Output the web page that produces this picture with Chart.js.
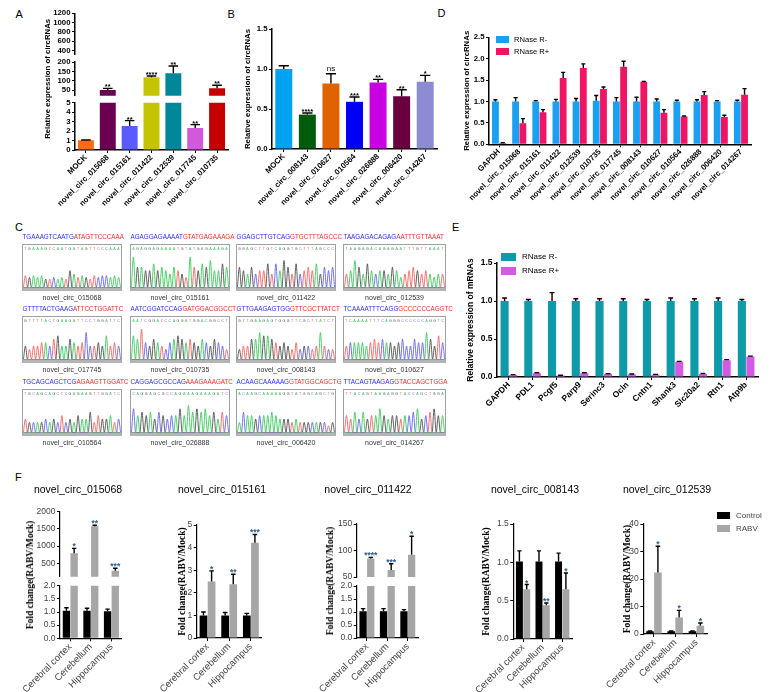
<!DOCTYPE html>
<html>
<head>
<meta charset="utf-8">
<script src="https://cdn.jsdelivr.net/npm/chart.js@4.4.1/dist/chart.umd.min.js"></script>
<style>
body { margin: 0; background: #fff; }
#fig { position: relative; width: 772px; height: 692px; overflow: hidden; font-family: "Liberation Sans", Arial, sans-serif; color: #000; }
#fig canvas { position: absolute; }
.txt { position: absolute; line-height: 1; white-space: nowrap; }
.sq { position: absolute; }
.box { position: absolute; box-sizing: border-box; border: 1px solid #a0a0a0; border-bottom: 3px solid #b4b4b4; }
</style>
</head>
<body>
<div id="fig"></div>
<script>
// ---- Panel A: circRNA expression (broken axis)
const aLabels = ['MOCK', 'novel_circ_015068', 'novel_circ_015161', 'novel_circ_011422', 'novel_circ_012539', 'novel_circ_017745', 'novel_circ_010735'];
const aValues = [1.02, 50, 2.55, 118, 140, 2.33, 60];
const aErrors = [0.04, 9, 0.55, 7, 39, 0.35, 16];
const aStars = ['', '**', '**', '****', '**', '**', '**'];
const aTicksTop = [400, 600, 800, 1000, 1200];
const aTicksMid = [50, 100, 150, 200];
const aTicksLow = [0, 1, 2, 3, 4, 5];
const aColors = ['#ff6a12', '#6b0050', '#5a5aff', '#c4c400', '#00889a', '#d259da', '#c40000'];

// ---- Panel B
const bLabels = ['MOCK', 'novel_circ_008143', 'novel_circ_010627', 'novel_circ_010564', 'novel_circ_026888', 'novel_circ_006420', 'novel_circ_014267'];
const bValues = [1.0, 0.43, 0.82, 0.59, 0.83, 0.66, 0.84];
const bErrors = [0.04, 0.02, 0.12, 0.06, 0.04, 0.08, 0.08];
const bStars = ['', '****', 'ns', '***', '**', '**', '*'];
const bTicks = [0, 0.5, 1.0, 1.5];
const bColors = ['#00a2f2', '#005c0a', '#e06300', '#0000f2', '#c800e2', '#6a0040', '#8c8cd2'];

// ---- Panel D: RNase R treatment, circRNAs
const dLabels = ['GAPDH', 'novel_circ_015068', 'novel_circ_015161', 'novel_circ_011422', 'novel_circ_012539', 'novel_circ_010735', 'novel_circ_017745', 'novel_circ_008143', 'novel_circ_010627', 'novel_circ_010564', 'novel_circ_026888', 'novel_circ_006420', 'novel_circ_014267'];
const dMinus = [1, 1, 1, 1, 1, 1.02, 1, 1, 1, 1, 1, 1, 1];
const dMinusErr = [0.04, 0.09, 0.02, 0.05, 0.07, 0.12, 0.09, 0.1, 0.06, 0.03, 0.04, 0.02, 0.03];
const dPlus = [0.03, 0.49, 0.75, 1.55, 1.78, 1.29, 1.81, 1.46, 0.74, 0.65, 1.15, 0.64, 1.16];
const dPlusErr = [0.01, 0.11, 0.06, 0.13, 0.1, 0.05, 0.13, 0.01, 0.07, 0.01, 0.08, 0.04, 0.14];
const dTicks = [0, 0.5, 1.0, 1.5, 2.0, 2.5];

// ---- Panel E: RNase R treatment, mRNAs
const eLabels = ['GAPDH', 'PDL1', 'Pcgf5', 'Parp9', 'Serinc3', 'Ocln', 'Cntn1', 'Shank3', 'Slc20a2', 'Rtn1', 'Atp9b'];
const eMinus = [1, 1, 1, 1, 1, 1, 1, 1, 1, 1, 1];
const eMinusErr = [0.04, 0.02, 0.11, 0.03, 0.03, 0.03, 0.02, 0.04, 0.03, 0.04, 0.02];
const ePlus = [0.026, 0.05, 0.02, 0.05, 0.04, 0.035, 0.03, 0.2, 0.04, 0.22, 0.27];
const ePlusErr = [0.005, 0.006, 0.004, 0.006, 0.005, 0.005, 0.004, 0.005, 0.006, 0.008, 0.005];
const eTicks = [0, 0.5, 1.0, 1.5];

// ---- Panel F: fold change in brain regions
const fRegions = ['Cerebral cortex', 'Cerebellum', 'Hippocampus'];
const f015068Ctrl = [1.05, 1.05, 1.03], f015068CtrlErr = [0.11, 0.09, 0.08];
const f015068Rabv = [790, 1580, 280], f015068RabvErr = [145, 25, 75], f015068Stars = ['*', '**', '***'];
const f015161Ctrl = [1.0, 1.0, 1.0], f015161CtrlErr = [0.15, 0.13, 0.09];
const f015161Rabv = [2.5, 2.38, 4.22], f015161RabvErr = [0.47, 0.44, 0.36], f015161Stars = ['*', '**', '***'];
const f011422Ctrl = [1.03, 1.03, 1.03], f011422CtrlErr = [0.1, 0.1, 0.06];
const f011422Rabv = [85, 63, 92], f011422RabvErr = [2, 12, 35], f011422Stars = ['****', '***', '*'];
const f008143Ctrl = [1.01, 1.01, 1.01], f008143CtrlErr = [0.14, 0.14, 0.11];
const f008143Rabv = [0.65, 0.44, 0.65], f008143RabvErr = [0.06, 0.03, 0.21], f008143Stars = ['*', '**', '*'];
const f012539Ctrl = [1.0, 1.0, 1.0], f012539CtrlErr = [0.1, 0.1, 0.1];
const f012539Rabv = [22.4, 6.0, 3.0], f012539RabvErr = [9.5, 2.6, 1.0], f012539Stars = ['*', '*', '*'];
const f015068TicksTop = [500, 1000, 1500, 2000];
const f011422TicksTop = [50, 100, 150];
const fTicksLow = [0, 0.5, 1.0, 1.5, 2.0];
const f015161Ticks = [0, 1, 2, 3, 4, 5];
const f008143Ticks = [0, 0.5, 1.0, 1.5];
const f012539Ticks = [0, 10, 20, 30, 40];

// ---- Panel C: Sanger chromatograms (sequence either side of the junction + peak heights)
const chromNames = ['novel_circ_015068', 'novel_circ_015161', 'novel_circ_011422', 'novel_circ_012539',
  'novel_circ_017745', 'novel_circ_010735', 'novel_circ_008143', 'novel_circ_010627',
  'novel_circ_010564', 'novel_circ_026888', 'novel_circ_006420', 'novel_circ_014267'];
const chromLeft = ['TGAAAGTCAATG', 'AGAGGAGAAAAT', 'GGAGCTTGTCAG', 'TAAGAGACAGAG',
  'GTTTTACTGAAG', 'AATCGGATCCAG', 'GTTGAAGAGTGG', 'TCAAAATTTCAGG',
  'TGCAGCAGCTCG', 'CAGGAGCGCCAG', 'ACAAGCAAAAAG', 'TTACAGTAAGAG'];
const chromRight = ['ATAGTTCCCAAA', 'GTATGAGAAAGA', 'GTGCTTTAGCCC', 'AATTTGTTAAAT',
  'ATTCCTGGATTC', 'GATGGACGGCCT', 'GTTCGCTTATCT', 'GCCCCCCAGGTC',
  'AGAAGTTGGATC', 'AAAGAAAGATC', 'GTATGGCAGCTG', 'GTACCAGCTGGA'];
const chromHeights = [
  [3.5, 3, 3.5, 3, 3.5, 2.5, 2.5, 3, 2.5, 3, 2.5, 5, 4, 3, 3.5, 3, 2.5, 3.5, 3, 3.5, 3.5, 3, 3.5, 3],
  [9, 6, 6, 5, 5, 7, 5, 6, 5, 4, 6, 5, 4, 3, 9, 6, 5, 7, 6, 8, 5, 5, 7, 6],
  [6, 5, 4, 6, 4, 5, 5, 7, 4, 7, 5, 8, 6, 4, 7, 4, 5, 6, 5, 7, 4, 6, 5, 6],
  [4, 5, 8, 6, 4, 7, 5, 4, 5, 5, 4, 6, 5, 3, 4, 5, 6, 5, 4, 5, 4, 3, 4, 4],
  [4, 3, 4, 4, 5, 5, 4, 6, 7, 4, 4, 6, 5, 4, 5, 8, 4, 4, 5, 4, 7, 4, 5, 4],
  [7, 6, 9, 5, 4, 6, 5, 4, 3, 5, 6, 7, 6, 5, 6, 5, 4, 6, 5, 4, 6, 5, 4, 3],
  [3, 4, 4, 6, 6, 8, 7, 7, 6, 5, 4, 5, 4, 3, 5, 3, 4, 4, 3, 4, 8, 4, 3, 3],
  [4, 5, 5, 5, 5, 4, 5, 6, 5, 6, 5, 5, 4, 5, 6, 4, 4, 6, 5, 5, 8, 6, 4, 7, 5],
  [4, 3, 3, 3, 3, 4, 3, 4, 3, 5, 3, 4, 3, 5, 4, 4, 6, 3, 5, 4, 4, 5, 3, 4],
  [7, 5, 6, 5, 6, 4, 6, 5, 4, 5, 5, 7, 5, 8, 6, 7, 6, 7, 5, 6, 4, 6, 5],
  [3, 6, 5, 5, 4, 5, 5, 5, 6, 5, 4, 4, 4, 3, 4, 3, 3, 3, 3, 3, 3, 3, 2, 3],
  [5, 4, 6, 4, 6, 4, 5, 5, 7, 5, 4, 5, 5, 4, 5, 5, 6, 7, 4, 5, 6, 7, 5, 5]
];

// ---------------------------------------------------------------------------
const SANS = '"Liberation Sans", Arial, sans-serif';
const SERIF = '"Liberation Serif", "Times New Roman", serif';
Chart.defaults.animation = false;
Chart.defaults.responsive = false;
Chart.defaults.font.family = SANS;
Chart.defaults.color = '#000';

const fig = document.getElementById('fig');
const int = v => String(v);
const dec1 = v => v.toFixed(1);

function canvasAt(left, top, w, h, parent) {
    const c = document.createElement('canvas');
    c.width = w; c.height = h;
    c.style.left = left + 'px';
    c.style.top = top + 'px';
    (parent || fig).appendChild(c);
    return c;
}

function text(str, left, top, css) {
    const d = document.createElement('div');
    d.className = 'txt';
    d.style.left = left + 'px';
    d.style.top = top + 'px';
    if (css) d.style.cssText += css;
    d.innerHTML = str;
    fig.appendChild(d);
    return d;
}

function square(left, top, w, h, color) {
    const d = document.createElement('div');
    d.className = 'sq';
    d.style.cssText = `left:${left}px;top:${top}px;width:${w}px;height:${h}px;background:${color}`;
    fig.appendChild(d);
}

// Error bars (upward only, GraphPad style) and significance marks
const errorBars = {
    id: 'errorBars',
    afterDatasetsDraw(chart) {
        const { ctx } = chart;
        chart.data.datasets.forEach((ds, di) => {
            if (!ds.errors) return;
            const meta = chart.getDatasetMeta(di);
            const ys = chart.scales[meta.yAxisID];
            meta.data.forEach((bar, i) => {
                const v = ds.data[i];
                const top = v + ds.errors[i];
                if (v > ys.max || top < ys.min) return;
                const x = bar.x;
                const y0 = ys.getPixelForValue(Math.max(v, ys.min));
                const y1 = ys.getPixelForValue(Math.min(top, ys.max));
                ctx.save();
                ctx.strokeStyle = '#000';
                ctx.lineWidth = 1.4;
                ctx.beginPath();
                ctx.moveTo(x, y0);
                ctx.lineTo(x, y1);
                if (top <= ys.max) {
                    const w = Math.max(bar.width * 0.3, 2);
                    ctx.moveTo(x - w, y1);
                    ctx.lineTo(x + w, y1);
                }
                ctx.stroke();
                const star = ds.stars && ds.stars[i];
                if (star && top <= ys.max) {
                    ctx.fillStyle = ds.starColor || '#000';
                    ctx.font = star === 'ns' ? ds.nsFont : ds.starFont;
                    ctx.textAlign = 'center';
                    ctx.textBaseline = 'alphabetic';
                    ctx.fillText(star, x, y1 - (star === 'ns' ? 3 : -1));
                }
                ctx.restore();
            });
        });
    }
};

function barChart(canvas, o) {
    return new Chart(canvas, {
        type: 'bar',
        data: { labels: o.labels, datasets: o.datasets },
        options: {
            layout: { padding: o.pad },
            plugins: { legend: { display: false }, tooltip: { enabled: false } },
            scales: {
                x: {
                    display: !!o.xHeight,
                    grid: { drawOnChartArea: false, offset: false, color: '#000', tickLength: 3, lineWidth: 1 },
                    border: { color: '#000', width: o.axisWidth },
                    ticks: { autoSkip: false, minRotation: 45, maxRotation: 45, padding: 0, color: o.tickColor, font: o.xFont },
                    afterFit: s => { s.height = o.xHeight || 0; }
                },
                y: {
                    min: o.min,
                    max: o.max,
                    grid: { drawOnChartArea: false, color: '#000', tickLength: 3, lineWidth: 1 },
                    border: { color: '#000', width: o.axisWidth },
                    ticks: { autoSkip: false, padding: 1.5, color: o.tickColor, font: o.yFont, callback: v => o.fmt(v) },
                    afterBuildTicks: s => { s.ticks = o.ticks.map(v => ({ value: v })); },
                    title: o.title
                        ? { display: true, text: o.title, padding: 0, color: '#000', font: o.titleFont }
                        : { display: false },
                    afterFit: s => { s.width = o.yWidth; }
                }
            }
        },
        plugins: [errorBars]
    });
}

// ---- panel letters
const letterCss = 'font-size:11px;';
text('A', 15.5, 8.5, letterCss);
text('B', 227.5, 8.5, letterCss);
text('D', 437.5, 8, letterCss);
text('C', 15, 221.5, letterCss);
text('E', 452, 221.5, letterCss);
text('F', 15, 472, letterCss);

// ---- A
const boldStyle = {
    axisWidth: 1.5, tickColor: '#000',
    yFont: { size: 7.8, weight: 'bold' }, xFont: { size: 7.8, weight: 'bold' },
    titleFont: { size: 7.8, weight: 'bold' }
};
const aParts = [
    { min: 300, max: 1200, ticks: aTicksTop, top: 13.3, bottom: 155 },
    { min: 20, max: 200, ticks: aTicksMid, top: 62, bottom: 114.3, title: 'Relative expression of circRNAs' },
    { min: 0, max: 5, ticks: aTicksLow, top: 102.7, bottom: 0, xHeight: 60 }
];
aParts.forEach(p => barChart(canvasAt(0, 0, 232, 210), Object.assign({}, boldStyle, {
    labels: aLabels,
    datasets: [{
        data: aValues, errors: aErrors, stars: aStars, backgroundColor: aColors,
        barPercentage: 0.73, categoryPercentage: 1, clip: 0,
        starFont: `bold 7.5px ${SANS}`
    }],
    min: p.min, max: p.max, ticks: p.ticks, fmt: int,
    pad: { left: 43.3, right: 4, top: p.top, bottom: p.bottom },
    yWidth: 31.7, xHeight: p.xHeight, title: p.title
})));

// ---- B
barChart(canvasAt(200, 0, 245, 210), Object.assign({}, boldStyle, {
    labels: bLabels,
    datasets: [{
        data: bValues, errors: bErrors, stars: bStars, backgroundColor: bColors,
        barPercentage: 0.72, categoryPercentage: 1, clip: 0,
        starFont: `bold 7.5px ${SANS}`, nsFont: `8px ${SANS}`
    }],
    min: 0, max: 1.5, ticks: bTicks, fmt: dec1,
    pad: { left: 43.3, right: 8, top: 29, bottom: 0 },
    yWidth: 28.7, xHeight: 61, title: 'Relative expression of circRNAs'
}));

// ---- D
const rMinusBlue = '#1aa0f2', rPlusPink = '#f01464';
barChart(canvasAt(420, 0, 345, 210), Object.assign({}, boldStyle, {
    labels: dLabels,
    datasets: [
        { data: dMinus, errors: dMinusErr, backgroundColor: rMinusBlue, barPercentage: 0.94, categoryPercentage: 0.72, clip: 0 },
        { data: dPlus, errors: dPlusErr, backgroundColor: rPlusPink, barPercentage: 0.94, categoryPercentage: 0.72, clip: 0 }
    ],
    min: 0, max: 2.5, ticks: dTicks, fmt: dec1,
    pad: { left: 42.3, right: 14, top: 37.3, bottom: 0 },
    yWidth: 26.7, xHeight: 65.7, title: 'Relative expression of circRNAs'
}));
square(496, 36, 13, 7, rMinusBlue);
square(496, 48, 13, 7, rPlusPink);
text('RNase R-', 514, 35.5, 'font-size:7.6px;');
text('RNase R+', 514, 47.5, 'font-size:7.6px;');

// ---- E
const eTeal = '#0f9aaa', eOrchid = '#d35ae2';
barChart(canvasAt(430, 215, 340, 235), {
    axisWidth: 1.5, tickColor: '#000',
    yFont: { size: 8.5, weight: 'bold' }, xFont: { size: 8.5, weight: 'bold' },
    titleFont: { size: 8.5, weight: 'bold' },
    labels: eLabels,
    datasets: [
        { data: eMinus, errors: eMinusErr, backgroundColor: eTeal, barPercentage: 0.95, categoryPercentage: 0.72, clip: 0 },
        { data: ePlus, errors: ePlusErr, backgroundColor: eOrchid, barPercentage: 0.95, categoryPercentage: 0.72, clip: 0 }
    ],
    min: 0, max: 1.5, ticks: eTicks, fmt: dec1,
    pad: { left: 35.9, right: 12, top: 48, bottom: 0 },
    yWidth: 31.1, xHeight: 73, title: 'Relative expression of mRNAs'
});
square(501, 253, 15, 8, eTeal);
square(501, 267, 15, 8, eOrchid);
text('RNase R-', 522, 253, 'font-size:8px;');
text('RNase R+', 522, 267, 'font-size:8px;');

// ---- F
const fGray = '#a6a6a6';
const fStyle = {
    axisWidth: 1.2, tickColor: '#444',
    yFont: { size: 8.5 }, xFont: { size: 9.5 },
    titleFont: { family: SERIF, size: 9.5, weight: 'bold' }
};
const fYTitle = 'Fold change(RABV/Mock)';
function fSets(ctrl, ctrlErr, rabv, rabvErr, stars) {
    const common = { barPercentage: 0.95, categoryPercentage: 0.75, clip: 0 };
    return [
        Object.assign({ data: ctrl, errors: ctrlErr, backgroundColor: '#000' }, common),
        Object.assign({ data: rabv, errors: rabvErr, stars, backgroundColor: fGray, starColor: '#2f5d8a', starFont: `bold 8.5px ${SANS}` }, common)
    ];
}
function fChart(left, width, o) {
    return barChart(canvasAt(left, 470, width, 222), Object.assign({}, fStyle, { labels: fRegions }, o));
}

// 015068 (broken axis)
fChart(0, 130, { datasets: fSets(f015068Ctrl, f015068CtrlErr, f015068Rabv, f015068RabvErr, f015068Stars),
    min: 110, max: 2000, ticks: f015068TicksTop, fmt: int,
    pad: { left: 24.3, right: 8.3, top: 41.7, bottom: 115.3 }, yWidth: 35.7 });
fChart(0, 130, { datasets: fSets(f015068Ctrl, f015068CtrlErr, f015068Rabv, f015068RabvErr, f015068Stars),
    min: 0, max: 2, ticks: fTicksLow, fmt: dec1,
    pad: { left: 24.3, right: 8.3, top: 115.7, bottom: 0 }, yWidth: 35.7, xHeight: 53.7 });
// 015161
fChart(140, 130, { datasets: fSets(f015161Ctrl, f015161CtrlErr, f015161Rabv, f015161RabvErr, f015161Stars),
    min: 0, max: 5, ticks: f015161Ticks, fmt: int,
    pad: { left: 37, right: 8.3, top: 55, bottom: 0 }, yWidth: 19.7, xHeight: 54, title: fYTitle });
// 011422 (broken axis)
fChart(300, 125, { datasets: fSets(f011422Ctrl, f011422CtrlErr, f011422Rabv, f011422RabvErr, f011422Stars),
    min: 50, max: 150, ticks: f011422TicksTop, fmt: int,
    pad: { left: 24.3, right: 7, top: 54, bottom: 115 }, yWidth: 32.4 });
fChart(300, 125, { datasets: fSets(f011422Ctrl, f011422CtrlErr, f011422Rabv, f011422RabvErr, f011422Stars),
    min: 0, max: 2, ticks: fTicksLow, fmt: dec1,
    pad: { left: 24.3, right: 7, top: 116, bottom: 0 }, yWidth: 32.4, xHeight: 54 });
// 008143
fChart(450, 130, { datasets: fSets(f008143Ctrl, f008143CtrlErr, f008143Rabv, f008143RabvErr, f008143Stars),
    min: 0, max: 1.5, ticks: f008143Ticks, fmt: dec1,
    pad: { left: 31, right: 8, top: 54, bottom: 0 }, yWidth: 32.3, xHeight: 53, title: fYTitle });
// 012539
fChart(590, 125, { datasets: fSets(f012539Ctrl, f012539CtrlErr, f012539Rabv, f012539RabvErr, f012539Stars),
    min: 0, max: 40, ticks: f012539Ticks, fmt: int,
    pad: { left: 32.3, right: 8, top: 54, bottom: 0 }, yWidth: 21, xHeight: 58, title: fYTitle });

const rotTitle = `font:bold 9.5px ${SERIF};transform:translate(-50%,-50%) rotate(-90deg);`;
text(fYTitle, 30, 575, rotTitle);
text(fYTitle, 330, 581, rotTitle);

const fTitleCss = 'font-size:10.5px;width:160px;text-align:center;';
[['novel_circ_015068', 78], ['novel_circ_015161', 222], ['novel_circ_011422', 368],
 ['novel_circ_008143', 535], ['novel_circ_012539', 667]].forEach(([t, cx]) => text(t, cx - 80, 483.5, fTitleCss));

square(717, 512, 13, 7, '#000');
square(717, 525, 13, 7, fGray);
text('Control', 736, 511.5, 'font-size:8px;color:#444;');
text('RABV', 736, 524.5, 'font-size:8px;color:#444;');

// ---- C: chromatograms
const CHROM_COLORS = { A: '#3cc85c', C: '#6464f0', G: '#505050', T: '#f06464' };
const chromCall = {
    id: 'chromCall',
    afterDraw(chart, args, opts) {
        const { ctx } = chart;
        const xs = chart.scales.x;
        ctx.save();
        ctx.font = `3.6px ${SANS}`;
        ctx.textAlign = 'center';
        ctx.textBaseline = 'middle';
        [...opts.seq].forEach((b, i) => {
            ctx.fillStyle = CHROM_COLORS[b];
            ctx.fillText(b, xs.getPixelForValue(i), 4);
        });
        ctx.restore();
    }
};

const chromCols = [22, 130, 236, 343];
const chromRows = [244, 316, 389];
chromNames.forEach((name, k) => {
    const left = chromCols[k % 4];
    const top = chromRows[Math.floor(k / 4)];
    const w = k % 4 === 3 ? 103 : 100;
    const h = 47;
    const seq = chromLeft[k] + chromRight[k];
    const heights = chromHeights[k];

    text(`<span style="color:#2d2df0">${chromLeft[k]}</span><span style="color:#f02d2d">${chromRight[k]}</span>`,
        left + 0.5, top - 10, 'font-size:6.3px;');
    text(name, left, top + h + 3, `font-size:7px;color:#333;width:${w}px;text-align:center;`);

    const box = document.createElement('div');
    box.className = 'box';
    box.style.cssText += `left:${left}px;top:${top}px;width:${w}px;height:${h}px;`;
    fig.appendChild(box);
    const c = canvasAt(0, 0, w - 2, h - 4, box);

    const datasets = ['A', 'C', 'G', 'T'].map(base => {
        const pts = [];
        for (let i = 0; i < seq.length; i++) {
            pts.push({ x: i - 0.5, y: 0 });
            pts.push({ x: i, y: seq[i] === base ? heights[i] : 0 });
        }
        pts.push({ x: seq.length - 0.5, y: 0 });
        return { data: pts, borderColor: CHROM_COLORS[base], borderWidth: 0.9, pointRadius: 0,
                 cubicInterpolationMode: 'monotone', fill: false, clip: 0 };
    });

    new Chart(c, {
        type: 'line',
        data: { datasets },
        options: {
            layout: { padding: { top: 7, bottom: 0.5, left: 0, right: 0 } },
            plugins: { legend: { display: false }, tooltip: { enabled: false }, chromCall: { seq } },
            scales: {
                x: { type: 'linear', display: false, min: -0.6, max: seq.length - 0.4 },
                y: { display: false, min: 0, max: 10.5 }
            }
        },
        plugins: [chromCall]
    });
});
</script>
</body>
</html>
